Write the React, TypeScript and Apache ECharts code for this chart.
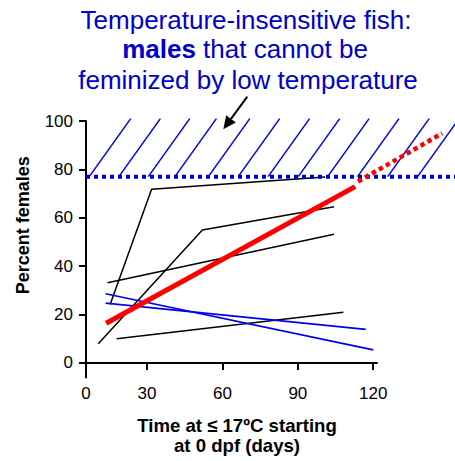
import React, { useEffect, useRef } from "react";
import * as echarts from "echarts";

const FONT = "'Liberation Sans', Arial, Helvetica, sans-serif";
const BLUE_TEXT = "#0000CC";
const BLUE = "#0000EE";

// Axes
const xMin = 5.7;
const xMax = 121.5;
const yMin = -6;
const yMax = 100;
const xTickValues = [30, 60, 90, 120];
const xLabelValues = [5.7, 30, 60, 90, 120];
const yTickValues = [0, 20, 40, 60, 80, 100];
// Overflow region (same scale, wider/taller, hidden axes)
const xMaxWide = 152.6;
const yMaxWide = 110;

// Threshold (temperature-insensitive males)
const thresholdY = 77;
const thresholdLine = [[5.7, 77], [152.6, 77]];

// Hatch lines above the threshold: [bottomX, topX]
const hatchBottomX = [7.0, 18.8, 30.5, 41.1, 54.4, 66.3, 78.2, 90.2, 101.9, 113.8, 125.8, 137.7];
const hatchTopX = [23.5, 35.3, 47.0, 57.6, 70.9, 82.8, 94.7, 106.7, 118.4, 130.3, 142.3, 154.2];
const hatchTopY = 101;

// Family lines (black)
const blackA = [[15.3, 24.2], [31.8, 71.8], [100.8, 76.9]];
const blackB = [[10.6, 7.9], [52, 55], [104.4, 64.6]];
const blackC = [[14.3, 33.2], [104.4, 53.2]];
const blackD = [[17.9, 10.0], [108.1, 21.0]];
// Family lines (blue)
const blue1 = [[13.5, 28.6], [120, 5.4]];
const blue2 = [[13.5, 24.7], [117, 13.9]];
// Trend (red)
const redSolid = [[13.7, 16.4], [112.8, 72.9]];
const redDotted = [[114, 75], [147.5, 94.9]];

const titleLines = [
  "Temperature-insensitive fish:",
  "{b|males}{n| that cannot be}",
  "feminized by low temperature",
];
const xName = "Time at \u2264 17\u00baC starting\nat 0 dpf (days)";
const yName = "Percent females";

export default function App() {
  const ref = useRef<HTMLDivElement>(null);
  useEffect(() => {
    document.body.style.margin = "0";
    const chart = echarts.init(ref.current!, null, { renderer: "svg" });

    const lineSeries = (data: number[][], color: string, width: number, type: any = "solid", z = 2, wide = false) => ({
      type: "line",
      data,
      symbol: "none",
      clip: false,
      silent: true,
      z,
      xAxisIndex: wide ? 1 : 0,
      yAxisIndex: wide ? 1 : 0,
      lineStyle: { color, width, type, cap: "butt" },
    });

    const hatchSeries = hatchBottomX.map((bx, i) =>
      lineSeries([[bx, thresholdY], [hatchTopX[i], hatchTopY]], BLUE, 1.5, "solid", 2, true)
    );

    const titleStyle = {
      fontSize: 26,
      fontWeight: "normal",
      color: BLUE_TEXT,
      fontFamily: FONT,
      lineHeight: 30,
    };

    const option: any = {
      animation: false,
      title: [
        { text: titleLines[0], left: 246, top: 4.6, textAlign: "center", padding: 0, textStyle: titleStyle },
        {
          text: titleLines[1], left: 245, top: 34, textAlign: "center", padding: 0,
          textStyle: {
            ...titleStyle,
            rich: {
              b: { ...titleStyle, fontWeight: "bold" },
              n: { ...titleStyle },
            },
          },
        },
        { text: titleLines[2], left: 248, top: 65.3, textAlign: "center", padding: 0, textStyle: titleStyle },
      ],
      grid: [
        { left: 86, right: 78, top: 121, bottom: 83.5, outerBoundsMode: "none" },
        { left: 86, right: 0, top: 96.8, bottom: 83.5, outerBoundsMode: "none" },
      ],
      xAxis: [
        {
          type: "value",
          gridIndex: 0,
          min: xMin,
          max: xMax,
          name: xName,
          nameLocation: "middle",
          nameGap: 38,
          nameMoveOverlap: false,
          nameTextStyle: {
            fontSize: 18.6, fontWeight: "bold", color: "#000", fontFamily: FONT, lineHeight: 20,
            padding: [0, 0, 0, 11],
          },
          axisLine: { onZero: true, lineStyle: { color: "#000", width: 2 } },
          axisTick: { show: true, customValues: xTickValues, length: 7, lineStyle: { color: "#000", width: 2 } },
          axisLabel: {
            customValues: xLabelValues,
            margin: 7.5,
            fontSize: 17,
            color: "#000",
            fontFamily: FONT,
            formatter: (v: number) => (v < 10 ? "0" : String(Math.round(v))),
          },
          splitLine: { show: false },
        },
        { type: "value", gridIndex: 1, min: xMin, max: xMaxWide, show: false },
      ],
      yAxis: [
        {
          type: "value",
          gridIndex: 0,
          min: yMin,
          max: yMax,
          name: yName,
          nameLocation: "middle",
          nameGap: 54,
          nameMoveOverlap: false,
          nameTextStyle: {
            fontSize: 18, fontWeight: "bold", color: "#000", fontFamily: FONT,
            padding: [0, 0, 0, 48],
          },
          axisLine: { show: true, onZero: false, lineStyle: { color: "#000", width: 2 } },
          axisTick: { show: true, customValues: yTickValues, length: 7, lineStyle: { color: "#000", width: 2 } },
          axisLabel: {
            customValues: yTickValues,
            margin: 13,
            fontSize: 17,
            color: "#000",
            fontFamily: FONT,
          },
          splitLine: { show: false },
        },
        { type: "value", gridIndex: 1, min: yMin, max: yMaxWide, show: false },
      ],
      series: [
        ...hatchSeries,
        lineSeries(thresholdLine, BLUE_TEXT, 4, [4, 4], 3, true),
        lineSeries(blackA, "#000", 1.5),
        lineSeries(blackB, "#000", 1.5),
        lineSeries(blackC, "#000", 1.5),
        lineSeries(blackD, "#000", 1.5),
        lineSeries(blue1, BLUE, 1.7),
        lineSeries(blue2, BLUE, 1.7),
        lineSeries(redSolid, "#FF0000", 5, "solid", 4),
        lineSeries(redDotted, "#FF0000", 4.5, [4.5, 3.5], 4, true),
      ],
      graphic: [
        {
          type: "line",
          shape: { x1: 247.3, y1: 96.7, x2: 231, y2: 118.8 },
          style: { stroke: "#000", lineWidth: 2 },
          silent: true,
        },
        {
          type: "polygon",
          shape: { points: [[223.3, 129.3], [235.8, 122.4], [226.2, 115.2]] },
          style: { fill: "#000" },
          silent: true,
        },
      ],
    };
    chart.setOption(option);
    return () => chart.dispose();
  }, []);
  return <div ref={ref} style={{ width: 455, height: 461 }} />;
}
